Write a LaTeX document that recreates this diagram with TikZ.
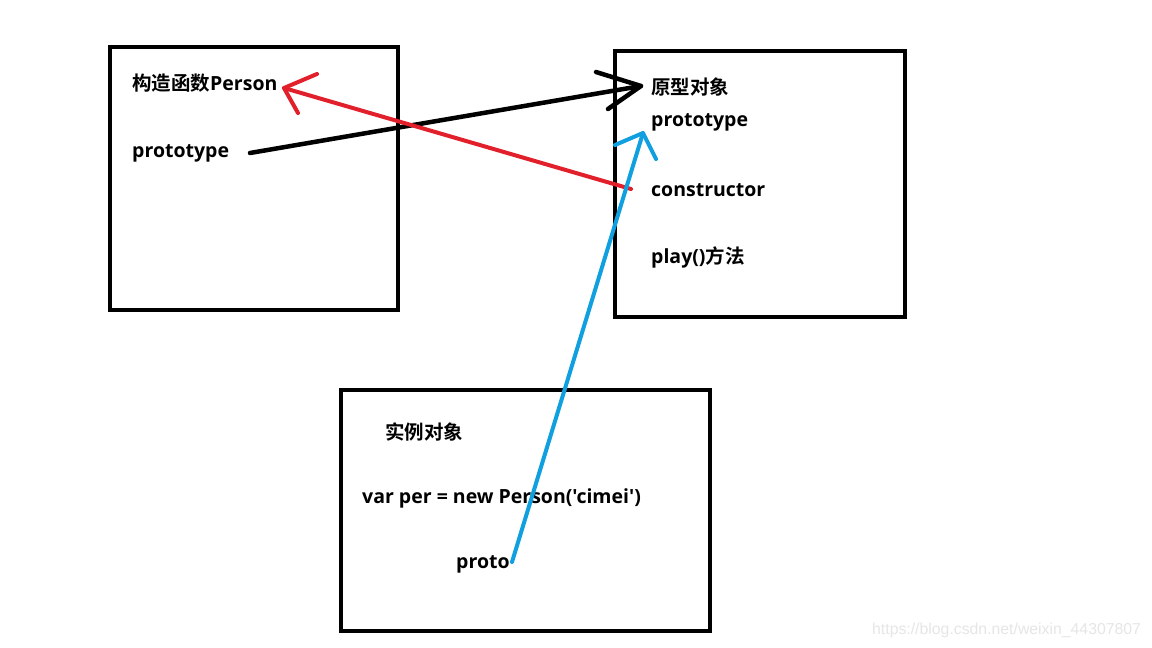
\documentclass[tikz,border=0pt]{standalone}
\usepackage{fontspec}
\newfontfamily\lat{Open Sans}
\newfontfamily\cjk{Noto Sans CJK SC}[BoldFont={Noto Sans CJK SC Bold}]
\newfontfamily\wmfont{Liberation Sans}
\tikzset{
  frame/.style={draw=black, line width=4pt},
  lbl/.style={anchor=west, inner sep=0pt, font=\lat\fontsize{19.5}{22}\selectfont\bfseries},
  blackln/.style={draw=black, line width=4.5pt, line cap=round, line join=round},
  redln/.style={draw=arrowred, line width=4pt, line cap=round, line join=round},
  blueln/.style={draw=arrowblue, line width=4pt, line cap=round, line join=round},
}
\definecolor{arrowred}{HTML}{E2202B}
\definecolor{arrowblue}{HTML}{10A0E0}
\definecolor{wmgray}{HTML}{E6E6E6}
\begin{document}
\begin{tikzpicture}[x=1pt,y=-1pt]
\useasboundingbox[fill=white] (0,0) rectangle (1152,648);
% boxes
\draw[frame] (110,47) rectangle (398,310);
\draw[frame] (615,51) rectangle (905,317);
\draw[frame] (341,390) rectangle (710,631);
% labels
\node[lbl] (ctor) at (132,83) {{\cjk 构造函数}Person};
\node[lbl] (proto1) at (132,153) {prototype};
\node[lbl] (pobj) at (651,87) {\cjk 原型对象};
\node[lbl] (proto2) at (651,122) {prototype};
\node[lbl] (cons) at (651,190) {constructor};
\node[lbl] (play) at (651,257) {play(){\cjk 方法}};
\node[lbl] (inst) at (385,432) {\cjk 实例对象};
\node[lbl] (code) at (362,498) {var per = new Person('cimei')};
\node[lbl] (proto3) at (456,564) {proto};
% connector end points
\coordinate (bS) at (250,153);
\coordinate (bT) at (641,86);
\coordinate (rS) at (631,189);
\coordinate (rT) at (284,88);
\coordinate (uS) at (512,562);
\coordinate (uT) at (643,133);
% black arrow
\draw[blackln] (bS) -- (bT);
\draw[blackln] (596,72) -- (bT) -- (608,109);
% red arrow
\draw[redln] (rS) -- (rT);
\draw[redln] (317,74) -- (rT) -- (298,113);
% blue arrow
\draw[blueln] (uS) -- (uT);
\draw[blueln] (615,145) -- (uT) -- (656,159);
% watermark
\node[anchor=west, inner sep=0pt, text=wmgray, font=\wmfont\fontsize{15.8}{18}\selectfont] (wm) at (872,630) {https://blog.csdn.net/weixin\_44307807};
\end{tikzpicture}
\end{document}
